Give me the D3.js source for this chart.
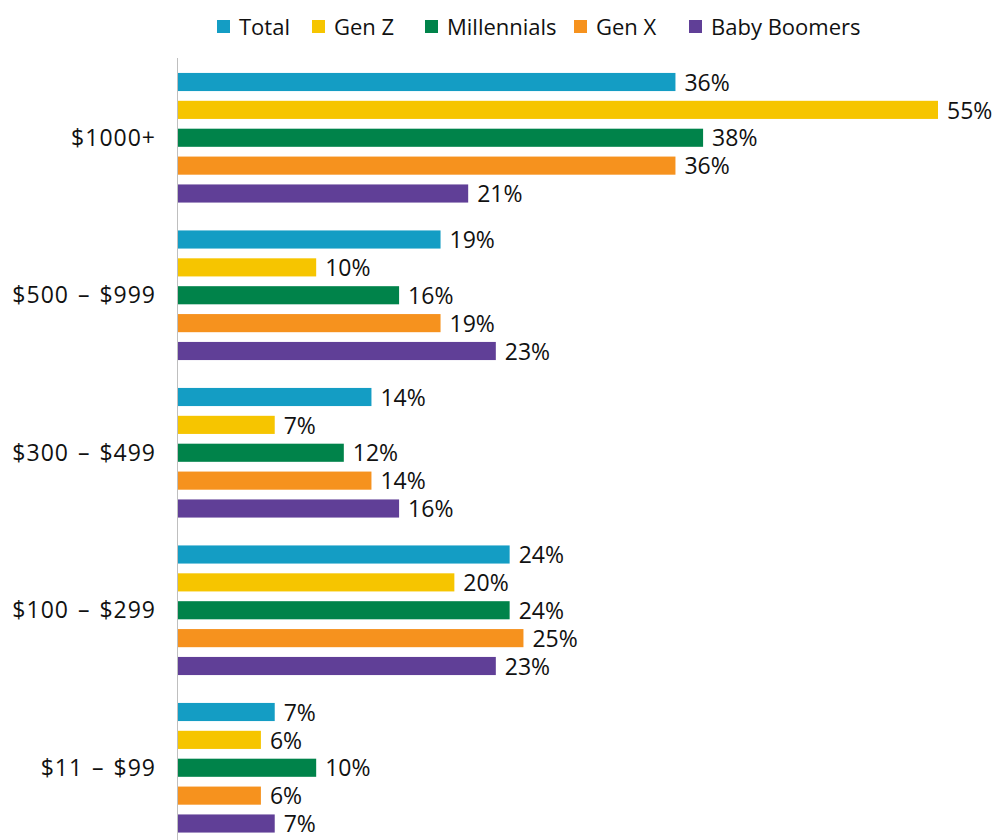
<!DOCTYPE html>
<html lang="en">
<head>
<meta charset="UTF-8">
<title>Spending by generation</title>
<script src="https://d3js.org/d3.v7.min.js"></script>
<style>
  body { margin: 0; background: #fff; }
  svg { display: block; font-family: "Open Sans", "Noto Sans", sans-serif; }
</style>
</head>
<body>
<div id="chart"></div>
<script>
// data
const categories = ["$1000+", "$500 – $999", "$300 – $499", "$100 – $299", "$11 – $99"];
const seriesNames = ["Total", "Gen Z", "Millennials", "Gen X", "Baby Boomers"];
const total = [36, 19, 14, 24, 7];
const genZ = [55, 10, 7, 20, 6];
const millennials = [38, 16, 12, 24, 10];
const genX = [36, 19, 14, 25, 6];
const boomers = [21, 23, 16, 23, 7];
const colors = ["#149dc4", "#f6c500", "#00834a", "#f6921e", "#603f97"];

const seriesValues = [total, genZ, millennials, genX, boomers];

const width = 997, height = 840;
const svg = d3.select("#chart").append("svg")
    .attr("width", width)
    .attr("height", height);

const x = d3.scaleLinear().domain([0, 55]).range([178, 938]);

const y0 = d3.scaleBand().domain(categories).range([59, 846.5]).padding(0);
const y1 = d3.scaleBand().domain(seriesNames).range([0, y0.bandwidth()])
    .paddingInner(0.35).paddingOuter(0.5);

// axis line
svg.append("line")
    .attr("x1", 177.5).attr("x2", 177.5)
    .attr("y1", 58).attr("y2", height)
    .attr("stroke", "#bfbfbf").attr("stroke-width", 1);

// category labels
svg.selectAll(".cat")
    .data(categories)
    .enter().append("text")
    .attr("class", "cat")
    .attr("x", 156)
    .attr("y", d => y0(d) + y0.bandwidth() / 2)
    .attr("dy", "0.35em")
    .attr("text-anchor", "end")
    .attr("font-size", 23)
    .attr("fill", "#111")
    .style("letter-spacing", "1px")
    .style("word-spacing", "2px")
    .text(d => d);

const groups = svg.selectAll(".grp")
    .data(categories)
    .enter().append("g")
    .attr("transform", d => `translate(0,${y0(d)})`);

groups.each(function(cat, ci) {
    const g = d3.select(this);
    const rows = seriesNames.map((s, si) => ({ s, si, v: seriesValues[si][ci] }));
    g.selectAll("rect")
        .data(rows)
        .enter().append("rect")
        .attr("x", x(0))
        .attr("y", d => y1(d.s))
        .attr("width", d => x(d.v) - x(0))
        .attr("height", y1.bandwidth())
        .attr("fill", d => colors[d.si]);
    g.selectAll("text")
        .data(rows)
        .enter().append("text")
        .attr("x", d => x(d.v) + 9)
        .attr("y", d => y1(d.s) + y1.bandwidth() / 2)
        .attr("dy", "0.38em")
        .attr("font-size", 23)
        .attr("fill", "#111")
        .text(d => d.v + "%");
});

// legend
const legendX = [239, 334, 447, 596, 711];
const legend = svg.selectAll(".leg")
    .data(seriesNames)
    .enter().append("g")
    .attr("transform", (d, i) => `translate(${legendX[i]},27)`);
legend.append("rect")
    .attr("x", -22).attr("y", -7)
    .attr("width", 13).attr("height", 13)
    .attr("fill", (d, i) => colors[i]);
legend.append("text")
    .attr("x", 0)
    .attr("dy", "0.35em")
    .attr("font-size", 22)
    .attr("fill", "#111")
    .text(d => d);
</script>
</body>
</html>
